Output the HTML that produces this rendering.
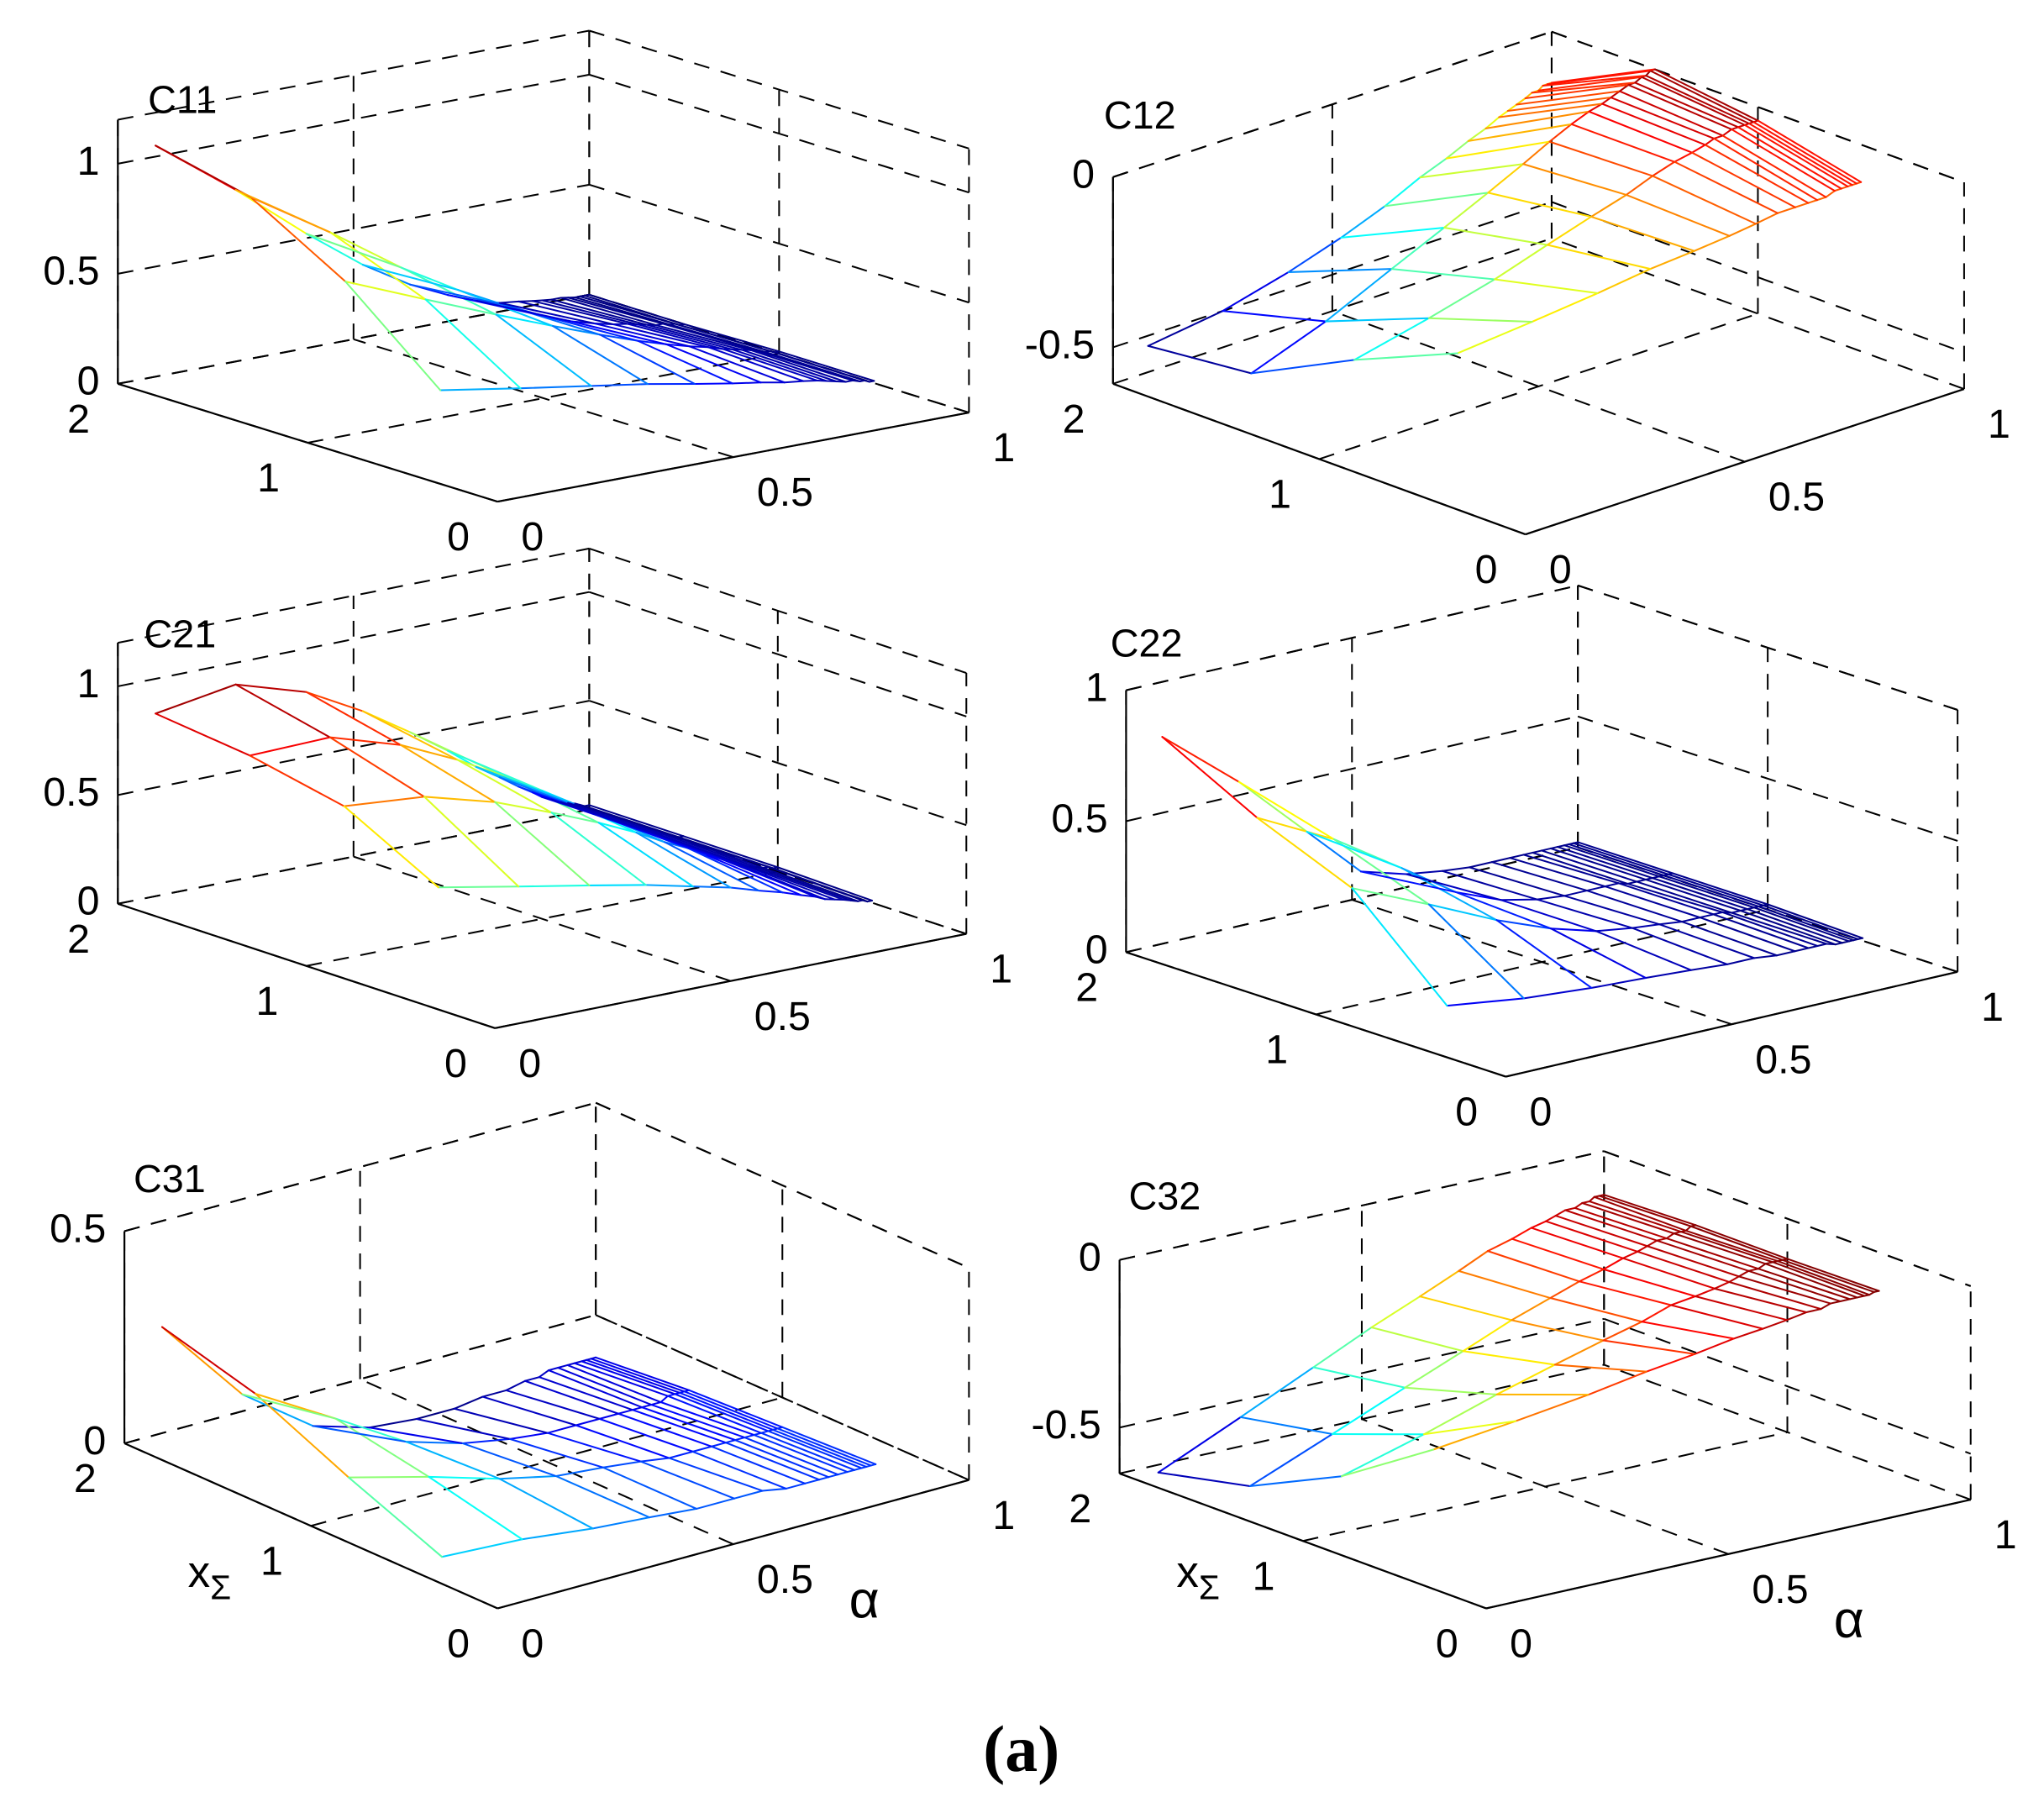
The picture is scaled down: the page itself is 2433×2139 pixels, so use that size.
<!DOCTYPE html>
<html><head><meta charset="utf-8">
<style>
html,body{margin:0;padding:0;background:#fff;}
svg{display:block;}
text{font-family:"Liberation Sans",sans-serif;fill:#000;}
</style></head>
<body>
<svg id="fig" xmlns="http://www.w3.org/2000/svg" width="2433" height="2139" viewBox="0 0 1561 1372" preserveAspectRatio="none">
<rect x="0" y="0" width="1561" height="1372" fill="#fff"/>
<text x="780" y="1352" text-anchor="middle" font-size="50" font-weight="bold" style="font-family:'Liberation Serif',serif">(a)</text>
</svg>
<script>
// ---- shared grid data ----
const alphaCols = [0.08,0.25,0.4,0.52,0.62,0.7,0.76,0.81,0.85,0.88,0.9,0.92,0.94,0.955,0.97,0.98,0.99,1.0];
const rowXs = [2,1.5,1,0.5];
const xsTicks = [0,1,2];
const alphaTicks = [0,0.5,1];

// ---- C11 ----
const c11_x2  = [1.05,0.78,0.52,0.33,0.2,0.12,0.07,0.04,0.03,0.02,0.015,0.01,0.01,0.005,0,0,0,0];
const c11_x15 = [0.95,0.72,0.5,0.35,0.24,0.16,0.11,0.08,0.06,0.05,0.04,0.03,0.02,0.02,0.01,0.01,0,0];
const c11_x1  = [0.70,0.55,0.42,0.32,0.24,0.18,0.14,0.11,0.09,0.07,0.06,0.05,0.04,0.03,0.02,0.02,0.01,0.01];
const c11_x05 = [0.34,0.28,0.23,0.19,0.15,0.12,0.1,0.08,0.07,0.06,0.05,0.04,0.03,0.03,0.02,0.02,0.01,0.01];
const c11_zTicks = [0,0.5,1];
const c11_zLabels = ["0","0.5","1"];
// ---- C12 ----
const c12_x2  = [-0.53,-0.5,-0.45,-0.4,-0.35,-0.3,-0.27,-0.24,-0.22,-0.2,-0.19,-0.18,-0.17,-0.16,-0.16,-0.15,-0.15,-0.15];
const c12_x15 = [-0.5,-0.42,-0.33,-0.26,-0.2,-0.15,-0.11,-0.08,-0.06,-0.05,-0.04,-0.03,-0.02,-0.02,-0.01,-0.01,0,0];
const c12_x1  = [-0.35,-0.3,-0.25,-0.2,-0.16,-0.13,-0.1,-0.08,-0.07,-0.06,-0.05,-0.05,-0.04,-0.04,-0.04,-0.04,-0.04,-0.04];
const c12_x05 = [-0.22,-0.2,-0.18,-0.16,-0.15,-0.14,-0.13,-0.12,-0.12,-0.12,-0.12,-0.12,-0.11,-0.11,-0.11,-0.11,-0.11,-0.11];
const c12_zTicks = [-0.5,0];
const c12_zLabels = ["-0.5","0"];
// ---- C21 ----
const c21_x2  = [0.84,0.9,0.8,0.66,0.52,0.4,0.3,0.23,0.17,0.13,0.1,0.08,0.06,0.05,0.04,0.03,0.02,0.02];
const c21_x15 = [0.79,0.8,0.7,0.58,0.46,0.36,0.28,0.21,0.16,0.12,0.1,0.08,0.06,0.05,0.04,0.03,0.02,0.02];
const c21_x1  = [0.7,0.67,0.58,0.48,0.39,0.31,0.24,0.19,0.14,0.11,0.09,0.07,0.05,0.04,0.03,0.03,0.02,0.02];
const c21_x05 = [0.47,0.4,0.34,0.29,0.24,0.2,0.16,0.13,0.1,0.08,0.06,0.05,0.04,0.03,0.02,0.02,0.01,0.01];
const c21_zTicks = [0,0.5,1];
const c21_zLabels = ["0","0.5","1"];
// ---- C22 ----
const c22_x2  = [0.79,0.55,0.3,0.1,0.05,0.03,0.02,0.02,0.02,0.02,0.02,0.02,0.02,0.02,0.02,0.02,0.02,0.02];
const c22_x15 = [0.6,0.45,0.28,0.14,0.07,0.04,0.03,0.03,0.03,0.03,0.02,0.02,0.02,0.02,0.02,0.02,0.02,0.02];
const c22_x1  = [0.45,0.32,0.2,0.12,0.07,0.05,0.04,0.03,0.03,0.03,0.03,0.02,0.02,0.02,0.02,0.02,0.02,0.02];
const c22_x05 = [0.12,0.08,0.06,0.05,0.04,0.03,0.03,0.02,0.02,0.02,0.02,0.02,0.01,0.01,0.01,0.01,0.01,0.01];
const c22_zTicks = [0,0.5,1];
const c22_zLabels = ["0","0.5","1"];
// ---- C31 ----
const c31_x2  = [0.25,0.04,-0.08,-0.12,-0.13,-0.13,-0.12,-0.12,-0.11,-0.11,-0.1,-0.1,-0.1,-0.1,-0.1,-0.1,-0.1,-0.1];
const c31_x15 = [0.19,0.08,-0.02,-0.06,-0.08,-0.09,-0.09,-0.09,-0.09,-0.09,-0.09,-0.09,-0.09,-0.08,-0.08,-0.08,-0.08,-0.08];
const c31_x1  = [0.09,0.04,-0.01,-0.04,-0.05,-0.06,-0.07,-0.07,-0.07,-0.07,-0.07,-0.07,-0.07,-0.07,-0.07,-0.07,-0.07,-0.07];
const c31_x05 = [0.0,-0.01,-0.03,-0.04,-0.05,-0.05,-0.05,-0.06,-0.06,-0.06,-0.06,-0.06,-0.06,-0.06,-0.06,-0.06,-0.06,-0.06];
const c31_zTicks = [0,0.5];
const c31_zLabels = ["0","0.5"];
// ---- C32 ----
const c32_x2  = [-0.66,-0.55,-0.45,-0.37,-0.31,-0.26,-0.22,-0.2,-0.18,-0.17,-0.16,-0.15,-0.15,-0.14,-0.14,-0.13,-0.13,-0.13];
const c32_x15 = [-0.6,-0.5,-0.41,-0.34,-0.28,-0.24,-0.21,-0.19,-0.17,-0.16,-0.15,-0.14,-0.14,-0.13,-0.13,-0.13,-0.12,-0.12];
const c32_x1  = [-0.47,-0.4,-0.33,-0.28,-0.24,-0.21,-0.18,-0.17,-0.16,-0.15,-0.14,-0.13,-0.13,-0.12,-0.12,-0.12,-0.12,-0.12];
const c32_x05 = [-0.29,-0.26,-0.23,-0.2,-0.18,-0.16,-0.15,-0.14,-0.13,-0.13,-0.12,-0.12,-0.12,-0.12,-0.12,-0.12,-0.115,-0.115];
const c32_zTicks = [-0.5,0];
const c32_zLabels = ["-0.5","0"];

const NS = "http://www.w3.org/2000/svg";
const svg = document.getElementById('fig');

const plots = [
 {id:'c11', title:'C11', tx:113, ty:88, O:[380,383], U:[90,293], V:[740,315], zpx:168, zmin:0, zmax:1.2, rows:[c11_x2,c11_x15,c11_x1,c11_x05], zt:c11_zTicks, zl:c11_zLabels, axisLabels:false},
 {id:'c12', title:'C12', tx:843, ty:100, O:[1165,408], U:[850,293], V:[1500,297], zpx:260, zmin:-0.607, zmax:0, rows:[c12_x2,c12_x15,c12_x1,c12_x05], zt:c12_zTicks, zl:c12_zLabels, axisLabels:false},
 {id:'c21', title:'C21', tx:110, ty:496, O:[378,785], U:[90,690], V:[738,713], zpx:166, zmin:0, zmax:1.2, rows:[c21_x2,c21_x15,c21_x1,c21_x05], zt:c21_zTicks, zl:c21_zLabels, axisLabels:false},
 {id:'c22', title:'C22', tx:848, ty:503, O:[1150,822], U:[860,727], V:[1495,742], zpx:200, zmin:0, zmax:1.0, rows:[c22_x2,c22_x15,c22_x1,c22_x05], zt:c22_zTicks, zl:c22_zLabels, axisLabels:false},
 {id:'c31', title:'C31', tx:102, ty:912, O:[380,1228], U:[95,1102], V:[740,1130], zpx:324, zmin:0, zmax:0.5, rows:[c31_x2,c31_x15,c31_x1,c31_x05], zt:c31_zTicks, zl:c31_zLabels, axisLabels:true, xl:[160,1200], al:[660,1222]},
 {id:'c32', title:'C32', tx:862, ty:925, O:[1135,1228], U:[855,1125], V:[1505,1145], zpx:256, zmin:-0.637, zmax:0, rows:[c32_x2,c32_x15,c32_x1,c32_x05], zt:c32_zTicks, zl:c32_zLabels, axisLabels:true, xl:[915,1200], al:[1412,1237]}
];

function jet(t){
  t=Math.max(0,Math.min(1,t));
  const c=v=>Math.round(255*Math.max(0,Math.min(1,v)));
  return 'rgb('+c(1.5-Math.abs(4*t-3))+','+c(1.5-Math.abs(4*t-2))+','+c(1.5-Math.abs(4*t-1))+')';
}
function mk(tag, attrs, parent){
  const e=document.createElementNS(NS,tag);
  for(const k in attrs) e.setAttribute(k,attrs[k]);
  (parent||svg).appendChild(e);
  return e;
}

plots.forEach(p=>{
  const g = mk('g',{});
  
  
  const px=(p.O[0]-p.U[0])/2, py=(p.O[1]-p.U[1])/2;
  const qx=p.V[0]-p.O[0], qy=p.V[1]-p.O[1];
  function P(xs,a,z){ return [p.O[0]-px*xs+qx*a, p.O[1]-py*xs+qy*a-p.zpx*(z-p.zmin)]; }
  function line(a,b,attrs,name,parent){
    const l=mk('line',Object.assign({x1:a[0].toFixed(2),y1:a[1].toFixed(2),x2:b[0].toFixed(2),y2:b[1].toFixed(2)},attrs),parent||g);
    
    
    return l;
  }
  const dash={stroke:'#000','stroke-width':1.3,'stroke-dasharray':'12,9',fill:'none'};
  const grid = mk('g',{},g);
  
  
  xsTicks.forEach(x=>{
    line(P(x,0,p.zmin),P(x,1,p.zmin),dash,'floor-gridline-xs',grid);
    line(P(x,1,p.zmin),P(x,1,p.zmax),dash,'wall-gridline-xs',grid);
  });
  alphaTicks.forEach(a=>{
    line(P(0,a,p.zmin),P(2,a,p.zmin),dash,'floor-gridline-alpha',grid);
    line(P(2,a,p.zmin),P(2,a,p.zmax),dash,'wall-gridline-alpha',grid);
  });
  p.zt.concat([p.zmax]).forEach(z=>{
    line(P(2,0,z),P(2,1,z),dash,'wall-gridline-z',grid);
    line(P(2,1,z),P(0,1,z),dash,'wall-gridline-z',grid);
  });
  const mesh = mk('g',{'stroke-width':1.3,fill:'none','stroke-linecap':'round'},g);
  
  
  let zlo=Infinity, zhi=-Infinity;
  p.rows.forEach(r=>r.forEach(v=>{zlo=Math.min(zlo,v);zhi=Math.max(zhi,v);}));
  const col=z=>jet((z-zlo)/((zhi-zlo)||1));
  p.rows.forEach((r,i)=>{
    for(let j=0;j<alphaCols.length-1;j++){
      line(P(rowXs[i],alphaCols[j],r[j]),P(rowXs[i],alphaCols[j+1],r[j+1]),{stroke:col((r[j]+r[j+1])/2)},'mesh-row-segment',mesh);
    }
  });
  for(let j=0;j<alphaCols.length;j++){
    for(let i=0;i<p.rows.length-1;i++){
      const z1=p.rows[i][j], z2=p.rows[i+1][j];
      line(P(rowXs[i],alphaCols[j],z1),P(rowXs[i+1],alphaCols[j],z2),{stroke:col((z1+z2)/2)},'mesh-column-segment',mesh);
    }
  }
  const solid={stroke:'#000','stroke-width':1.4};
  line(P(2,0,p.zmin),P(2,0,p.zmax),solid,'z-axis');
  line(P(2,0,p.zmin),P(0,0,p.zmin),solid,'xs-axis');
  line(P(0,0,p.zmin),P(0,1,p.zmin),solid,'alpha-axis');
  function txt(x,y,s,anchor,name,size){
    const t=mk('text',{x:x,y:y,'font-size':size||31,'text-anchor':anchor,'dominant-baseline':'central'},g);
    t.textContent=s;
    
    
    return t;
  }
  p.zt.forEach((z,k)=>{ const q=P(2,0,z); txt(q[0]-14,q[1]-2,p.zl[k],'end','z-tick-label'); });
  xsTicks.forEach(x=>{ const q=P(x,0,p.zmin); txt(q[0]-30,q[1]+27,String(x),'middle','xs-tick-label'); });
  alphaTicks.forEach(a=>{ const q=P(0,a,p.zmin); txt(q[0]+18,q[1]+27,String(a),'start','alpha-tick-label'); });
  txt(p.tx,p.ty-12,p.title,'start',p.id+'-title',30);
  if(p.axisLabels){
    const xl=mk('text',{x:p.xl[0],y:p.xl[1],'font-size':34,'text-anchor':'middle','dominant-baseline':'central'},g);
    
    
    const t1=mk('tspan',{},xl); t1.textContent='x';
    const t2=mk('tspan',{dy:12,'font-size':26},xl); t2.textContent='Σ';
    txt(p.al[0],p.al[1],'α','middle','alpha-axis-title',40);
  }
});
</script>
</body></html>
